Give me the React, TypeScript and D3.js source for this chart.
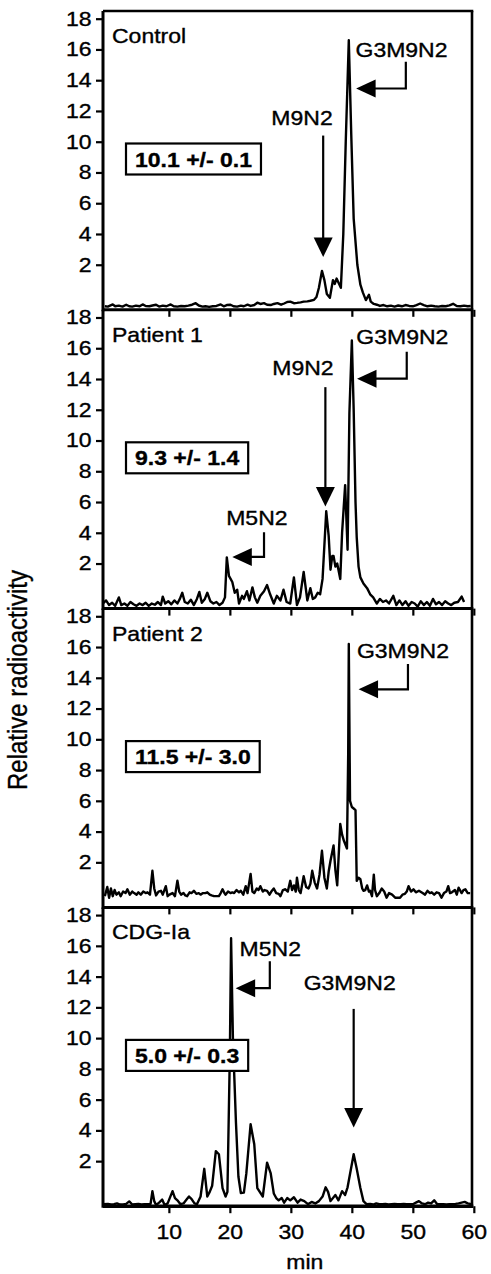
import React, { useRef, useEffect } from "react"
import * as d3 from "d3"

// retention time (min), relative radioactivity
const controlTrace: [number, number][] = [
  [-0.5, -0.7], [0, -0.72], [0.8, -0.58], [1.2, -0.7], [1.8, -0.66], [2.4, -0.72], [3, -0.6], [3.5, -0.7],
  [4, -0.72], [4.6, -0.66], [5.2, -0.7], [5.7, -0.58], [6.2, -0.68], [6.8, -0.7], [7.3, -0.65], [7.9, -0.6],
  [8.4, -0.72], [9, -0.66], [9.6, -0.7], [10.3, -0.58], [10.8, -0.7], [11.4, -0.72], [12, -0.68], [12.6, -0.7],
  [13.2, -0.66], [13.8, -0.6], [14.4, -0.5], [14.9, -0.65], [15.5, -0.72], [16, -0.7], [16.6, -0.74], [17.2, -0.7],
  [17.8, -0.68], [18.5, -0.58], [19, -0.7], [19.5, -0.62], [20.1, -0.6], [20.6, -0.7], [21.2, -0.72], [21.8, -0.66],
  [22.3, -0.7], [22.9, -0.6], [23.4, -0.68], [24, -0.62], [24.5, -0.47], [25, -0.55], [25.6, -0.5], [26.1, -0.6],
  [26.7, -0.62], [27.2, -0.55], [27.8, -0.5], [28.4, -0.6], [28.9, -0.52], [29.4, -0.42], [29.9, -0.4], [30.5, -0.5],
  [31, -0.48], [31.6, -0.45], [32.1, -0.4], [32.7, -0.38], [33.2, -0.34], [33.8, -0.28], [34.2, -0.1], [34.6, 0.5],
  [35.1, 1.6], [35.5, 1.0], [35.9, 0.1], [36.4, -0.15], [36.9, 1.0], [37.2, 0.75], [37.5, 1.1], [37.8, 0.85],
  [38.2, 0.5], [38.6, 4], [39, 10], [39.5, 16.6], [39.9, 10.5], [40.3, 5], [40.9, 2.0], [41.4, 0.7],
  [41.8, 0.2], [42.3, -0.3], [42.8, 0.05], [43.1, -0.4], [43.6, -0.55], [44.1, -0.6], [44.6, -0.68], [45.2, -0.62],
  [45.8, -0.7], [46.4, -0.66], [47, -0.72], [47.6, -0.65], [48.2, -0.7], [48.8, -0.62], [49.4, -0.68], [50, -0.7],
  [50.6, -0.62], [51.2, -0.52], [51.8, -0.62], [52.4, -0.7], [53, -0.66], [53.6, -0.7], [54.2, -0.72], [54.8, -0.68],
  [55.4, -0.7], [56, -0.64], [56.6, -0.54], [57.2, -0.68], [57.8, -0.7], [58.4, -0.66], [59, -0.7], [59.5, -0.68],
]

const patient1Trace: [number, number][] = [
  [-0.8, -0.6], [-0.3, -0.4], [0.2, -0.7], [0.7, -0.55], [1.2, -0.75], [1.8, -0.2], [2.2, -0.7], [2.7, -0.6],
  [3.2, -0.75], [3.7, -0.5], [4.2, -0.65], [4.7, -0.75], [5.2, -0.6], [5.7, -0.7], [6.2, -0.55], [6.7, -0.75],
  [7.2, -0.6], [7.7, -0.68], [8.2, -0.5], [8.7, -0.7], [9.0, -0.15], [9.4, -0.6], [9.9, -0.45], [10.4, -0.65],
  [10.9, -0.4], [11.4, -0.6], [11.8, -0.3], [12.2, 0.1], [12.6, -0.5], [13.1, -0.6], [13.6, -0.35], [14.1, -0.7],
  [14.6, -0.3], [15.0, 0.15], [15.4, -0.55], [15.9, -0.3], [16.3, 0.1], [16.8, -0.45], [17.3, -0.6], [17.8, -0.5],
  [18.3, -0.7], [18.8, -0.55], [19.2, -0.2], [19.5, 2.4], [19.85, 1.2], [20.4, 0.8], [20.8, 0.1], [21.2, 0.3],
  [21.5, -0.6], [22.0, -0.1], [22.3, -0.3], [22.8, 0.2], [23.2, -0.4], [23.7, 0.45], [24.1, -0.2], [24.5, -0.55],
  [25.0, -0.1], [25.6, 0.2], [26.1, 0.6], [26.6, 0.0], [27.2, -0.6], [27.7, -0.1], [28.3, -0.4], [28.8, 0.3],
  [29.3, -0.5], [29.9, -0.6], [30.5, 1.1], [31.0, -0.7], [31.5, -0.2], [32.1, 1.45], [32.7, -0.4], [33.2, 0.4],
  [33.6, -0.3], [34.0, -0.2], [34.4, 0.1], [34.8, 0.0], [35.2, 1.0], [35.8, 5.4], [36.2, 3.8], [36.5, 1.6],
  [36.8, 2.5], [37.0, 2.5], [37.3, 1.8], [37.6, 2.0], [38.1, 1.0], [38.4, 4.0], [38.9, 7.1], [39.3, 2.9],
  [39.6, 11.8], [40.0, 16.5], [40.3, 12.0], [40.6, 6.0], [40.8, 3.7], [41.1, 1.8], [41.4, 1.1], [41.9, 0.7],
  [42.5, 0.4], [43.0, 0.0], [43.5, -0.2], [44.1, -0.6], [44.6, -0.3], [45.1, -0.5], [45.6, -0.4], [46.1, -0.6],
  [46.8, -0.1], [47.3, -0.7], [47.8, -0.4], [48.3, -0.7], [48.8, -0.45], [49.3, -0.75], [49.8, -0.5], [50.3, -0.6],
  [50.8, -0.8], [51.3, -0.45], [51.8, -0.7], [52.3, -0.5], [52.8, -0.75], [53.3, -0.3], [53.8, -0.65], [54.3, -0.5],
  [54.8, -0.7], [55.3, -0.45], [55.8, -0.6], [56.3, -0.7], [56.8, -0.55], [57.4, -0.5], [58.0, -0.15], [58.4, -0.5],
]

const patient2Trace: [number, number][] = [
  [-0.5, -0.2], [-0.1, 0.4], [0.2, -0.3], [0.5, 0.3], [0.8, -0.2], [1.1, 0.2], [1.4, -0.1], [1.8, 0.05],
  [2.1, -0.2], [2.5, 0.1], [2.9, 0.0], [3.2, 0.25], [3.6, -0.1], [4.0, 0.1], [4.3, 0.0], [4.7, -0.1],
  [5.0, 0.05], [5.4, -0.1], [5.8, 0.1], [6.2, 0.0], [6.5, 0.05], [6.9, -0.1], [7.3, 1.45], [7.6, 0.3],
  [7.9, -0.15], [8.3, 0.1], [8.7, 0.15], [9.0, -0.1], [9.5, 0.45], [9.8, -0.2], [10.1, -0.1], [10.6, 0.0],
  [11.0, -0.2], [11.4, 0.8], [11.7, 0.1], [12.0, -0.1], [12.4, 0.0], [12.7, -0.15], [13.0, -0.2], [13.4, 0.05],
  [13.7, 0.0], [14.1, 0.15], [14.5, -0.05], [14.9, 0.0], [15.2, -0.1], [15.6, 0.0], [16.0, 0.0], [16.3, 0.05],
  [16.7, -0.1], [17.0, -0.15], [17.4, -0.2], [17.8, -0.2], [18.2, -0.2], [18.5, 0.0], [18.8, 0.25], [19.1, 0.0],
  [19.3, -0.1], [19.7, 0.1], [20.1, 0.0], [20.4, 0.05], [20.7, 0.0], [21.1, 0.2], [21.5, 0.05], [21.8, 0.15],
  [22.2, -0.1], [22.6, 0.45], [22.9, 0.0], [23.4, 1.25], [23.7, 0.1], [24.0, 0.0], [24.4, 0.3], [24.7, 0.2],
  [25.0, 0.45], [25.4, 0.1], [25.7, 0.2], [26.1, 0.15], [26.5, -0.1], [26.8, 0.1], [27.2, 0.3], [27.6, 0.0],
  [28.0, -0.05], [28.3, -0.2], [28.7, 0.2], [29.1, 0.25], [29.5, 0.1], [29.9, 0.8], [30.2, 0.2], [30.5, 0.5],
  [30.8, 0.1], [31.0, 1.0], [31.3, 0.2], [31.6, 0.0], [32.1, 1.1], [32.5, 0.4], [32.9, 0.3], [33.2, 0.6],
  [33.5, 1.45], [33.9, 0.7], [34.3, 0.3], [34.7, 1.2], [35.1, 2.75], [35.5, 1.0], [35.9, 0.3], [36.2, 1.4],
  [36.5, 2.1], [37.0, 3.1], [37.3, 1.5], [37.6, 0.5], [38.1, 4.5], [38.4, 3.8], [38.7, 3.4], [39.2, 2.9],
  [39.4, 9], [39.5, 16.2], [39.7, 6.0], [40.0, 5.6], [40.3, 5.5], [40.6, 5.4], [40.8, 0.8], [41.1, 1.0],
  [41.4, 0.9], [41.7, 0.3], [41.9, 0.15], [42.2, 0.2], [42.5, 0.5], [42.8, 0.1], [43.0, 0.15], [43.3, -0.2],
  [43.6, 1.2], [43.8, 0.2], [44.1, -0.2], [44.5, 0.0], [44.9, 0.3], [45.3, 0.1], [45.7, -0.3], [46.1, 0.0],
  [46.6, -0.1], [47.1, -0.3], [47.9, -0.3], [48.3, -0.1], [48.7, -0.05], [49.0, 0.1], [49.3, 0.45], [49.7, 0.1],
  [50.1, 0.25], [50.5, 0.05], [51.0, 0.15], [51.2, 0.1], [51.6, 0.0], [52.0, -0.1], [52.4, 0.15], [52.8, 0.0],
  [53.1, 0.05], [53.5, -0.1], [53.9, 0.05], [54.3, 0.0], [54.7, -0.3], [55.1, 0.0], [55.5, 0.1], [55.8, 0.45],
  [56.1, 0.0], [56.4, 0.05], [56.9, 0.2], [57.2, -0.1], [57.5, 0.35], [58.0, 0.0], [58.3, 0.2], [58.6, 0.25],
  [59.0, 0.0], [59.4, 0.0],
]

const cdgTrace: [number, number][] = [
  [-0.8, -0.8], [0, -0.78], [0.5, -0.82], [1, -0.8], [1.5, -0.75], [2, -0.82], [2.6, -0.8], [3.0, -0.78],
  [3.5, -0.62], [4, -0.82], [4.5, -0.8], [5, -0.78], [5.5, -0.82], [6, -0.8], [6.5, -0.8], [7.0, -0.78],
  [7.3, 0.05], [7.6, -0.6], [7.9, -0.85], [8.4, -0.7], [8.9, -0.5], [9.3, -0.85], [9.8, -0.75], [10.6, 0.05],
  [11.0, -0.4], [11.4, -0.55], [11.9, -0.8], [12.4, -0.75], [12.9, -0.5], [13.3, -0.3], [13.7, -0.45], [14.2, -0.75],
  [14.6, -0.8], [15.2, -0.3], [15.8, 1.5], [16.3, -0.3], [16.7, 0.0], [17.1, 0.4], [17.7, 2.65], [18.2, 2.45],
  [18.8, 0.25], [19.3, -0.3], [19.6, 0.0], [20.0, 9], [20.2, 16.5], [20.5, 10], [21.0, 4.5], [21.4, 1.0],
  [21.8, -0.08], [22.3, -0.05], [22.7, 1.2], [23.4, 4.4], [24.0, 3.1], [24.5, 0.25], [25.4, -0.3], [26.1, 1.9],
  [26.7, 1.2], [27.2, -0.1], [27.6, -0.4], [28.0, -0.55], [28.5, -0.4], [28.9, -0.7], [29.4, -0.4], [29.9, -0.55],
  [30.5, -0.35], [31.1, -0.7], [31.6, -0.5], [32.2, -0.6], [32.8, -0.8], [33.4, -0.65], [34.0, -0.75], [34.6, -0.6],
  [35.2, -0.3], [35.7, 0.3], [36.1, 0.0], [36.5, -0.6], [37.3, -0.2], [37.8, -0.55], [38.4, 0.05], [38.9, -0.2],
  [39.3, 0.3], [40.3, 2.45], [40.8, 1.5], [41.4, 0.25], [41.9, -0.6], [42.4, -0.8], [43, -0.78], [43.5, -0.82],
  [44, -0.75], [44.5, -0.8], [45, -0.8], [45.5, -0.78], [46, -0.82], [46.5, -0.8], [47, -0.78], [47.5, -0.8],
  [48, -0.8], [48.5, -0.78], [49, -0.8], [49.5, -0.8], [50, -0.8], [50.5, -0.7], [51, -0.6], [51.5, -0.75],
  [52, -0.8], [52.5, -0.7], [53, -0.75], [53.5, -0.55], [54, -0.8], [54.5, -0.8], [55, -0.8], [55.5, -0.82],
  [56, -0.8], [56.5, -0.8], [57, -0.78], [57.5, -0.75], [58, -0.7], [58.5, -0.65], [59, -0.75], [59.6, -0.8],
]

const traces = [controlTrace, patient1Trace, patient2Trace, cdgTrace]
const panelNames = ["Control", "Patient 1", "Patient 2", "CDG-Ia"]
const ratioLabels = ["10.1 +/- 0.1", "9.3 +/- 1.4", "11.5 +/- 3.0", "5.0 +/- 0.3"]
const xTicks = [10, 20, 30, 40, 50, 60]
const yTicks = [2, 4, 6, 8, 10, 12, 14, 16, 18]

// "down": straight arrow; "left": bent arrow (down then left)
// label at (lt, lv); arrow at t from top to tip (down) or from top to bend, then left to tipT
type Note = { kind: string; label: string; lt: number; lv: number; t: number; top: number; end: number; tipT?: number }
const notes: Note[][] = [
  [
    { kind: "down", label: "M9N2", lt: 26.8, lv: 11.1, t: 35.3, top: 10.4, end: 2.5 },
    { kind: "left", label: "G3M9N2", lt: 40.6, lv: 15.5, t: 48.85, top: 15.2, end: 13.46, tipT: 40.7 },
  ],
  [
    { kind: "down", label: "M9N2", lt: 26.95, lv: 14.28, t: 35.66, top: 13.47, end: 5.71 },
    { kind: "left", label: "G3M9N2", lt: 40.73, lv: 16.3, t: 49.0, top: 15.77, end: 14.02, tipT: 40.85 },
    { kind: "left", label: "M5N2", lt: 19.4, lv: 4.51, t: 25.6, top: 4.03, end: 2.43, tipT: 20.4 },
  ],
  [
    { kind: "left", label: "G3M9N2", lt: 40.83, lv: 15.26, t: 49.2, top: 14.89, end: 13.25, tipT: 41.1 },
  ],
  [
    { kind: "left", label: "M5N2", lt: 21.6, lv: 15.33, t: 26.55, top: 15.0, end: 13.25, tipT: 20.95 },
    { kind: "down", label: "G3M9N2", lt: 32.1, lv: 13.15, t: 40.3, top: 11.9, end: 4.18 },
  ],
]

const W = 491,
  H = 1274
const left = 103,
  right = 472,
  top0 = 11,
  panelH = 298.8
const stretch = 1.15
const font = "Arial, 'Liberation Sans', Helvetica, sans-serif"

export default function App() {
  const ref = useRef<SVGSVGElement>(null)

  useEffect(() => {
    const svg = d3.select(ref.current)
    svg.selectAll("*").remove()
    svg.append("rect").attr("width", W).attr("height", H).attr("fill", "#fff")

    const x = d3.scaleLinear().domain([-0.8, 59.7]).range([left, right])

    // scanned lettering is a bit wider and heavier than plain Arial
    const txt = (g, px, py, s, anchor = "start", size = 20, weight = "normal") =>
      g
        .append("text")
        .attr("transform", `translate(${px},${py}) scale(${stretch},1)`)
        .attr("text-anchor", anchor)
        .attr("font-family", font)
        .attr("font-size", size)
        .attr("font-weight", weight)
        .attr("fill", "#000")
        .attr("stroke", "#000")
        .attr("stroke-width", 0.35)
        .text(s)

    traces.forEach((data, i) => {
      const pTop = top0 + i * panelH
      const pBot = pTop + panelH
      const y = d3.scaleLinear().domain([-0.93, 18.5]).range([pBot, pTop])
      const g = svg.append("g")

      // trace
      const line = d3
        .line<[number, number]>()
        .x(d => x(d[0]))
        .y(d => y(d[1]))
      g.append("path")
        .datum(data)
        .attr("d", line)
        .attr("fill", "none")
        .attr("stroke", "#000")
        .attr("stroke-width", 2.4)
        .attr("stroke-linejoin", "round")

      // y axis
      const ya = g
        .append("g")
        .attr("transform", `translate(${left},0)`)
        .call(d3.axisLeft(y).tickValues(yTicks).tickSize(7).tickPadding(3).tickFormat(d3.format("d")))
      ya.select(".domain").remove()
      ya.selectAll("line").attr("stroke-width", 2.2)
      ya.selectAll("text")
        .attr("font-family", font)
        .attr("font-size", 20)
        .attr("fill", "#000")
        .attr("stroke", "#000")
        .attr("stroke-width", 0.35)
        .attr("transform", `scale(${stretch},1)`)

      // x axis (ticks on every panel, labels only at the bottom)
      const xa = g
        .append("g")
        .attr("transform", `translate(0,${pBot})`)
        .call(d3.axisBottom(x).tickValues(xTicks).tickSize(7).tickPadding(12))
      xa.select(".domain").remove()
      xa.selectAll("line").attr("stroke-width", 2.2)
      if (i < 3) xa.selectAll("text").remove()
      else
        xa.selectAll("text")
          .attr("font-family", font)
          .attr("font-size", 20)
          .attr("fill", "#000")
          .attr("stroke", "#000")
          .attr("stroke-width", 0.35)
          .attr("transform", `scale(${stretch},1)`)

      // frame
      g.append("line").attr("x1", left).attr("x2", left).attr("y1", pTop).attr("y2", pBot + 1.5)
        .attr("stroke", "#000").attr("stroke-width", 3)
      g.append("line").attr("x1", right).attr("x2", right).attr("y1", pTop).attr("y2", pBot)
        .attr("stroke", "#000").attr("stroke-width", 2.6)
      g.append("line").attr("x1", left).attr("x2", right + 1.3).attr("y1", pBot).attr("y2", pBot)
        .attr("stroke", "#000").attr("stroke-width", i === 3 ? 3.4 : 3)
      if (i === 0)
        g.append("line").attr("x1", left).attr("x2", right + 1.3).attr("y1", pTop).attr("y2", pTop)
          .attr("stroke", "#000").attr("stroke-width", 2.6)

      // panel name
      txt(g, left + 9, pTop + 32, panelNames[i])

      // ratio box
      const bx = left + 23,
        by = pTop + 132.5
      const box = g.append("g")
      const rect = box
        .append("rect")
        .attr("x", bx)
        .attr("y", by)
        .attr("height", 31)
        .attr("fill", "#fff")
        .attr("stroke", "#000")
        .attr("stroke-width", 2.2)
      const t = txt(box, bx + 9, by + 23, ratioLabels[i], "start", 20, "bold")
      const tw = (t.node() as SVGTextElement).getComputedTextLength() * stretch
      rect.attr("width", tw + 18)

      // annotations
      notes[i].forEach(n => {
        txt(g, x(n.lt), y(n.lv), n.label)
        if (n.kind === "down") {
          const ax = x(n.t),
            tipY = y(n.end)
          g.append("line").attr("x1", ax).attr("x2", ax).attr("y1", y(n.top)).attr("y2", tipY - 15)
            .attr("stroke", "#000").attr("stroke-width", 2.2)
          g.append("path")
            .attr("d", `M${ax},${tipY}L${ax - 9.5},${tipY - 19.5}L${ax + 9.5},${tipY - 19.5}Z`)
            .attr("fill", "#000")
        } else {
          const ax = x(n.t),
            by2 = y(n.end),
            tipX = x(n.tipT as number)
          g.append("path")
            .attr("d", `M${ax},${y(n.top)}L${ax},${by2}L${tipX + 15},${by2}`)
            .attr("fill", "none")
            .attr("stroke", "#000")
            .attr("stroke-width", 2.2)
          g.append("path")
            .attr("d", `M${tipX},${by2}L${tipX + 19.5},${by2 - 9}L${tipX + 19.5},${by2 + 9}Z`)
            .attr("fill", "#000")
        }
      })
    })

    // axis titles
    txt(svg, x(32.3), 1269, "min", "middle")
    svg
      .append("text")
      .attr("transform", `translate(27,680) scale(${stretch},1) rotate(-90)`)
      .attr("text-anchor", "middle")
      .attr("font-family", font)
      .attr("font-size", 24)
      .attr("fill", "#000")
      .attr("stroke", "#000")
      .attr("stroke-width", 0.3)
      .text("Relative radioactivity")
  }, [])

  return (
    <svg
      ref={ref}
      width={W}
      height={H}
      style={{ position: "absolute", left: 0, top: 0, display: "block" }}
    />
  )
}
